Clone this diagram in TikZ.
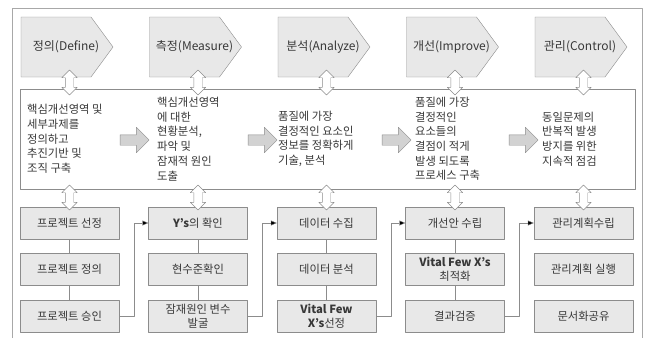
\documentclass[tikz,border=0pt]{standalone}
\usepackage{fontspec}
\setmainfont{Noto Sans CJK KR}
\usetikzlibrary{shapes.arrows,arrows.meta}
\definecolor{framegray}{HTML}{A8A8A8}
\definecolor{linegray}{HTML}{8C8C8C}
\definecolor{boxgray}{HTML}{E8E8E8}
\definecolor{arrowgray}{HTML}{D2D2D2}
\definecolor{textgray}{HTML}{383838}
\tikzset{
  stagelabel/.style={text=textgray, font=\fontsize{12}{14}\selectfont, inner sep=0pt},
  desc/.style={anchor=west, align=left, text=textgray, inner sep=0pt, font=\fontsize{11.3}{14.7}\selectfont},
  stepbox/.style={draw=linegray, fill=boxgray, minimum width=99pt, minimum height=32pt, inner sep=1pt,
    align=center, text=textgray, font=\fontsize{11.3}{14}\selectfont},
  linkarrow/.style={double arrow, draw=linegray, fill=white, rotate=90, minimum height=25pt,
    double arrow head extend=3.5pt, inner xsep=0pt, inner ysep=4pt},
  flowarrow/.style={single arrow, draw=linegray, fill=arrowgray, minimum height=29pt,
    single arrow head extend=7.5pt, inner xsep=0pt, inner ysep=5pt},
  conn/.style={draw=linegray, -{Triangle[length=6pt,width=5pt,fill=black]}}
}
\begin{document}
\begin{tikzpicture}[x=1pt,y=-1pt,line join=round]
\useasboundingbox (0,0) rectangle (650,338);
\def\colw{128.5}
\draw[framegray] (12,338) -- (12,8) -- (642,8) -- (642,338);
% stages
\foreach \i/\lbl in {0/{정의(Define)},1/{측정(Measure)},2/{분석(Analyze)},3/{개선(Improve)},4/{관리(Control)}}{
  \pgfmathsetmacro\xl{21+\i*\colw}
  \draw[linegray,fill=boxgray] (\xl,17) -- ++(70,0) -- ++(22,30) -- ++(-22,30) -- ++(-70,0) -- cycle;
  \node[stagelabel] (stage\i) at (\xl+45,47) {\lbl};
}
% middle box
\node[draw=linegray, fill=white, minimum width=615pt, minimum height=100pt, inner sep=0pt] (mainbox) at (327.5,139) {};
\node[desc] (desc0) at (27,139) {핵심개선영역 및\\세부과제를\\정의하고\\추진기반 및\\조직 구축};
\node[desc] (desc1) at (157,139) {핵심개선영역\\에 대한\\현황분석,\\파악 및\\잠재적 원인\\도출};
\node[desc] (desc2) at (278,139) {품질에 가장\\결정적인 요소인\\정보를 정확하게\\기술, 분석};
\node[desc] (desc3) at (415,139) {품질에 가장\\결정적인\\요소들의\\결점이 적게\\발생 되도록\\프로세스 구축};
\node[desc] (desc4) at (542,139) {동일문제의\\반복적 발생\\방지를 위한\\지속적 점검};
\foreach \x [count=\k] in {132,260,394,521}{
  \node[flowarrow] (flow\k) at (\x,140) {};
}
% steps
\node[stepbox] (s0a) at (69.5,223) {프로젝트 선정};
\node[stepbox] (s0b) at (69.5,269) {프로젝트 정의};
\node[stepbox] (s0c) at (69.5,316) {프로젝트 승인};
\node[stepbox] (s1a) at (198,223) {\textbf{Y’s}의 확인};
\node[stepbox] (s1b) at (198,269) {현수준확인};
\node[stepbox] (s1c) at (198,316) {잠재원인 변수\\발굴};
\node[stepbox] (s2a) at (326.5,223) {데이터 수집};
\node[stepbox] (s2b) at (326.5,269) {데이터 분석};
\node[stepbox] (s2c) at (326.5,316) {\textbf{Vital Few}\\\textbf{X’s}선정};
\node[stepbox] (s3a) at (455,223) {개선안 수립};
\node[stepbox] (s3b) at (455,269) {\textbf{Vital Few X’s}\\최적화};
\node[stepbox] (s3c) at (455,316) {결과검증};
\node[stepbox] (s4a) at (583.5,223) {관리계획수립};
\node[stepbox] (s4b) at (583.5,269) {관리계획 실행};
\node[stepbox] (s4c) at (583.5,316) {문서화공유};
\foreach \i in {0,...,3}{
  \draw[linegray] (s\i a) -- (s\i b) -- (s\i c);
}
\foreach \i/\j in {0/1,1/2,2/3,3/4}{
  \draw[conn] (s\i c.east) -- ++(14.5,0) |- (s\j a.west);
}
% link arrows
\foreach \i in {0,...,4}{
  \node[linkarrow] (up\i) at (69.5+\i*\colw,82.5) {};
  \node[linkarrow] (dn\i) at (69.5+\i*\colw,197.5) {};
}
\end{tikzpicture}
\end{document}
